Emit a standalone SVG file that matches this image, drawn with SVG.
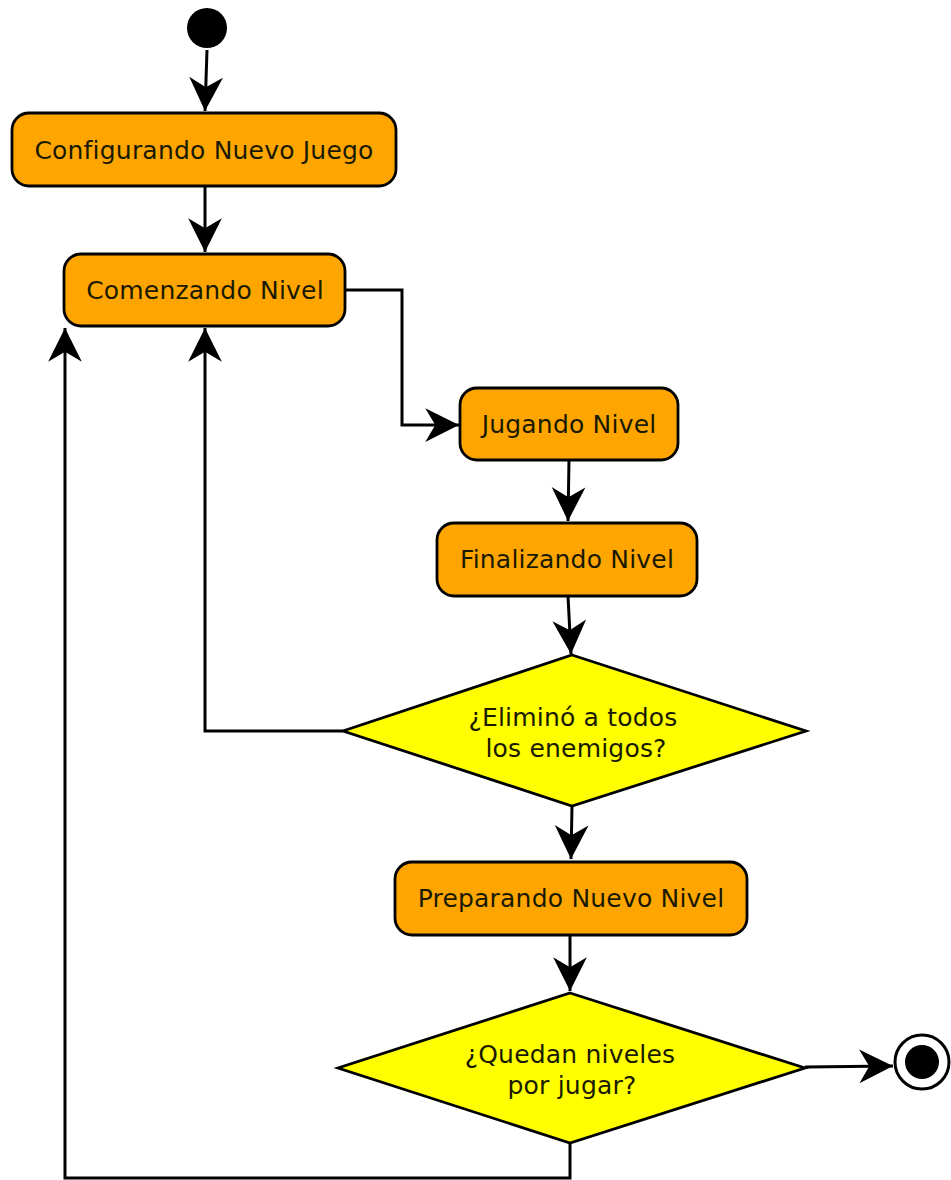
<svg xmlns="http://www.w3.org/2000/svg" width="951" height="1180" viewBox="0 0 951 1180">
<style>
.act{fill:#FFA500;stroke:#000;stroke-width:2.8}
.dec{fill:#FFFF00;stroke:#000;stroke-width:2.8}
.lbl{font-family:"DejaVu Sans",sans-serif;font-size:25px;letter-spacing:0.2px;fill:#1a1a00;text-anchor:middle}
.con{fill:none;stroke:#000;stroke-width:3;marker-end:url(#arr)}
</style>
<defs>
<marker id="arr" markerUnits="userSpaceOnUse" markerWidth="40" markerHeight="40" viewBox="-30 -16 32 32" refX="0" refY="0" orient="auto">
<path d="M0,0 L-27,-13.5 L-19,0 L-27,13.5 Z" fill="#000"/>
</marker>
</defs>
<g id="connectors">
<path class="con" d="M207,50 L205,111"/>
<path class="con" d="M205,186 L205,252"/>
<path class="con" d="M345,290 L402,290 L402,425 L459,425"/>
<path class="con" d="M569,460 L568,521"/>
<path class="con" d="M568,596 L571,654"/>
<path class="con" d="M343,731 L205,731 L205,328"/>
<path class="con" d="M572,806 L571,859"/>
<path class="con" d="M570,935 L570,991"/>
<path class="con" d="M805,1067 L893,1066"/>
<path class="con" d="M570,1143 L570,1178 L65,1178 L65,328"/>
</g>
<g id="start"><circle cx="207" cy="28" r="20" fill="#000"/></g>
<g id="n1"><rect class="act" x="12" y="113" width="384" height="73" rx="17"/><text class="lbl" x="204" y="159">Configurando Nuevo Juego</text></g>
<g id="n2"><rect class="act" x="64" y="254" width="281" height="72" rx="17"/><text class="lbl" x="205" y="299">Comenzando Nivel</text></g>
<g id="n3"><rect class="act" x="460" y="388" width="218" height="72" rx="17"/><text class="lbl" x="569" y="433">Jugando Nivel</text></g>
<g id="n4"><rect class="act" x="437" y="523" width="260" height="73" rx="17"/><text class="lbl" x="567" y="568">Finalizando Nivel</text></g>
<g id="d1"><polygon class="dec" points="572,655 806,731 572,806 343,731"/><text class="lbl" x="573" y="726">¿Eliminó a todos</text><text class="lbl" x="576" y="757"> los enemigos?</text></g>
<g id="n5"><rect class="act" x="395" y="862" width="352" height="73" rx="17"/><text class="lbl" x="571" y="907">Preparando Nuevo Nivel</text></g>
<g id="d2"><polygon class="dec" points="570,993 805,1068 570,1143 338,1068"/><text class="lbl" x="570" y="1063">¿Quedan niveles</text><text class="lbl" x="572" y="1094">por jugar?</text></g>
<g id="end"><circle cx="922" cy="1062" r="27" fill="#fff" stroke="#000" stroke-width="3"/><circle cx="922" cy="1062" r="17" fill="#000"/></g>
</svg>
